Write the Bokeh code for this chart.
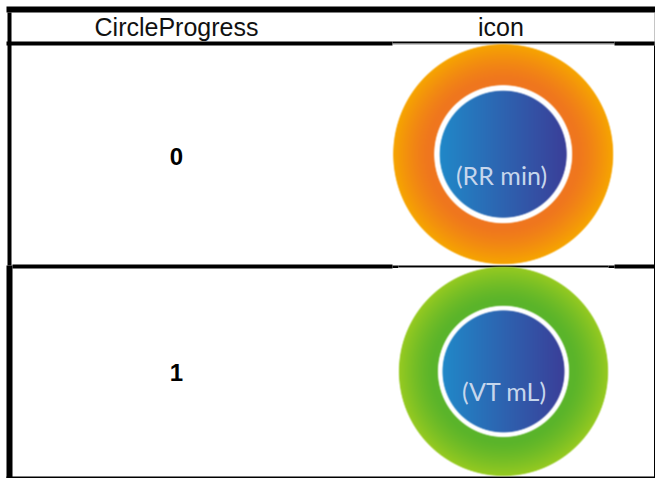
import numpy as np
from bokeh.embed import file_html
from bokeh.resources import INLINE
from bokeh.plotting import figure
from bokeh.core.properties import value

# table content
columns = ["CircleProgress", "icon"]
rows = ["0", "1"]
icon_labels = ["(RR min)", "(VT mL)"]
ring_outer_colors = [(246, 165, 0), (150, 202, 32)]
ring_inner_colors = [(239, 118, 30), (90, 180, 42)]
disc_left = (32, 136, 200)
disc_right = (58, 62, 152)

W, H = 655, 478
p = figure(width=W, height=H, x_range=(0, W), y_range=(H, 0), output_backend="svg",
           toolbar_location=None, min_border=0, outline_line_color=None, background_fill_color="white")
p.styles = {"position": "absolute", "left": "0px", "top": "0px"}
p.xaxis.visible = False
p.yaxis.visible = False
p.grid.visible = False

BLACK = "#000000"
GRAY = "#8c8c8c"


def rule(x0, x1, y0, y1, color=BLACK):
    p.quad(left=x0, right=x1, top=y0, bottom=y1, fill_color=color, line_color=None)


# table rules
rule(6, 655, 6, 12)
rule(6, 392, 41, 45)
rule(392, 614, 41, 43)
rule(392, 614, 43, 44, GRAY)
rule(614, 655, 41, 45)
rule(0 + 7, 11, 12, 265)
rule(6, 12, 265, 478)
rule(12, 392, 264, 268)
rule(392, 398, 265, 267.5)
rule(398, 608, 265, 266.5)
rule(398, 608, 266.5, 267.5, GRAY)
rule(608, 614, 265, 267.5)
rule(614, 655, 264, 268)
rule(654, 655, 12, 45, GRAY)
rule(653.5, 655, 45, 478)
rule(6, 655, 476, 478)


def smooth(d, w=1.6):
    return np.clip(0.5 - d / w, 0, 1)


def icon(cx, cy, rout, rwhite, rdisc, outer, inner):
    pad = 3
    x0 = int(np.floor(cx - rout - pad))
    x1 = int(np.ceil(cx + rout + pad))
    y0 = int(np.floor(cy - rout - pad))
    y1 = int(np.ceil(cy + rout + pad))
    xs = np.arange(x0, x1) + 0.5
    ys = np.arange(y0, y1) + 0.5
    X, Y = np.meshgrid(xs, ys)
    R = np.hypot(X - cx, Y - cy)
    t = np.clip((R - rwhite) / (rout - rwhite), 0, 1)[..., None]
    t = np.clip((t - 0.12) / 0.88, 0, 1) ** 1.3
    ring = np.array(inner) * (1 - t) + np.array(outer) * t
    u = np.clip((X - (cx - rdisc)) / (2 * rdisc), 0, 1)[..., None]
    disc = np.array(disc_left) * (1 - u) + np.array(disc_right) * u
    a_white = smooth(R - rwhite)[..., None]
    a_disc = smooth(R - rdisc)[..., None]
    col = ring * (1 - a_white) + 255 * a_white
    col = col * (1 - a_disc) + disc * a_disc
    alpha = smooth(R - rout)
    img = np.zeros(X.shape, dtype=np.uint32)
    v = img.view(dtype=np.uint8).reshape((X.shape[0], X.shape[1], 4))
    v[..., :3] = np.round(col).astype(np.uint8)
    v[..., 3] = np.round(alpha * 255).astype(np.uint8)
    p.image_rgba(image=[img], x=x0, y=y0, dw=x1 - x0, dh=y1 - y0)


icon(502.7, 153.7, 110, 69, 63.5, ring_outer_colors[0], ring_inner_colors[0])
icon(503, 370.9, 104.6, 65.6, 61, ring_outer_colors[1], ring_inner_colors[1])

# header
col_x = [176, 500.5]
p.text(x=col_x, y=[26.3, 26.3], text=columns, text_font=value("Liberation Sans"), text_font_size="25px",
       text_align="center", text_baseline="alphabetic", text_color="#111111")
# row keys
p.text(x=[col_x[0], col_x[0]], y=[156, 372], text=rows, text_font=value("Liberation Sans"),
       text_font_size="24px", text_font_style="bold", text_align="center", text_baseline="alphabetic",
       text_color="#000000")
# labels inside the icons
p.text(x=[501, 504], y=[174, 390.5], text=icon_labels, text_font=value("Lato"), text_font_size="25px",
       text_align="center", text_baseline="alphabetic", text_color="#c6d6ec")

open("out.html", "w").write(file_html(p, INLINE))
